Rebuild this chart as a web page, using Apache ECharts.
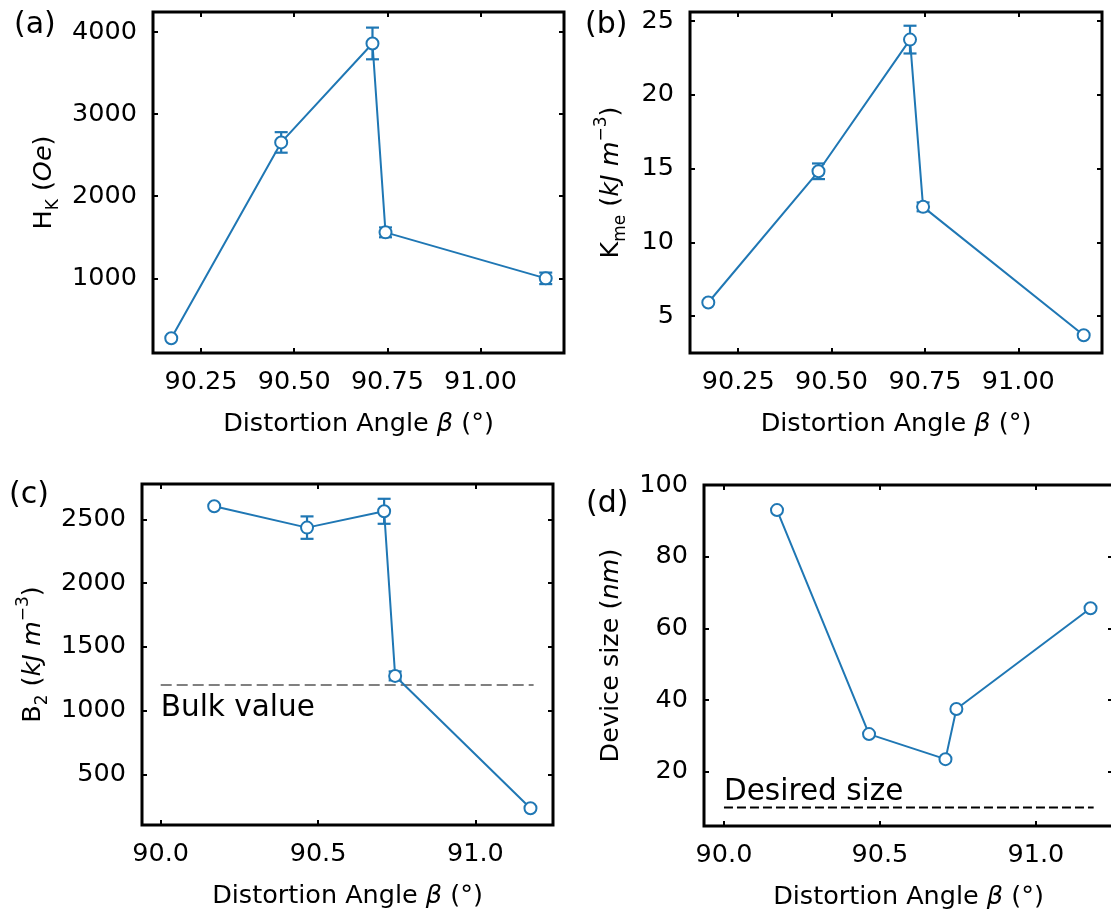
<!DOCTYPE html>
<html>
<head>
<meta charset="utf-8">
<script src="https://cdn.jsdelivr.net/npm/echarts@6/dist/echarts.min.js"></script>
<style>
  html, body { margin: 0; padding: 0; background: #ffffff; }
  #chart { width: 1111px; height: 912px; }
</style>
</head>
<body>
<div id="chart"></div>
<script>
// Distortion angle beta (degrees) of the five samples
const angle = [90.17, 90.465, 90.71, 90.745, 91.175];

// (a) anisotropy field H_K (Oe) with error
const hk = [270, 2655, 3860, 1560, 1000];
const hkErr = [0, 125, 193, 60, 70];

// (b) magnetoelastic anisotropy K_me (kJ m^-3) with error
const kme = [5.93, 14.82, 23.74, 12.41, 3.71];
const kmeErr = [0, 0.53, 0.94, 0.3, 0];

// (c) magnetoelastic coefficient B_2 (kJ m^-3) with error
const b2 = [2602, 2435, 2563, 1272, 234];
const b2Err = [0, 88, 98, 35, 0];

// (d) device size (nm)
const deviceSize = [93.0, 30.5, 23.5, 37.5, 65.6];

// reference lines
const refLineX = [90.0, 91.185];
const bulkB2 = 1200;
const desiredSize = 10;
const bulkLabelAt = [90.0, 1020];
const desiredLabelAt = [90.0, 14.2];

// tick values
const xTicksTop = [90.25, 90.5, 90.75, 91.0];
const xTicksBottom = [90.0, 90.5, 91.0];
const yTicksA = [1000, 2000, 3000, 4000];
const yTicksB = [5, 10, 15, 20, 25];
const yTicksC = [500, 1000, 1500, 2000, 2500];
const yTicksD = [20, 40, 60, 80, 100];

const FONT = 'DejaVu Sans';
const BLUE = '#1f77b4';
const TICK_SIZE = 25.5;

function rich(size) {
  const lh = 36;
  return {
    n: { fontFamily: FONT, fontSize: size, lineHeight: lh, color: '#000' },
    i: { fontFamily: FONT, fontSize: size, lineHeight: lh, fontStyle: 'italic', color: '#000' },
    sub: { fontFamily: FONT, fontSize: 17, lineHeight: lh, verticalAlign: 'bottom', color: '#000' },
    sup: { fontFamily: FONT, fontSize: 17, lineHeight: lh, verticalAlign: 'top', color: '#000' }
  };
}

const xTitle = '{n|Distortion Angle }{i|β}{n| (°)}';

function tickStyle(values) {
  return { show: true, inside: true, length: 5, customValues: values, lineStyle: { color: '#000', width: 2 } };
}

function xAxes(grid, range, ticks, digits) {
  return [
    {
      type: 'value', gridIndex: grid, position: 'bottom', min: range[0], max: range[1],
      axisLine: { show: false }, splitLine: { show: false },
      axisTick: tickStyle(ticks),
      axisLabel: { show: true, customValues: ticks, formatter: v => v.toFixed(digits), margin: 16,
                   fontFamily: FONT, fontSize: TICK_SIZE, color: '#000' },
      name: xTitle, nameLocation: 'middle', nameGap: 53,
      nameTextStyle: { fontFamily: FONT, fontSize: 25, color: '#000', rich: rich(25.5) }
    },
    {
      type: 'value', gridIndex: grid, position: 'top', min: range[0], max: range[1],
      axisLine: { show: false }, splitLine: { show: false },
      axisTick: tickStyle(ticks),
      axisLabel: { show: false, customValues: ticks }
    }
  ];
}

function yAxes(grid, range, ticks, title, gap) {
  return [
    {
      type: 'value', gridIndex: grid, position: 'left', min: range[0], max: range[1],
      axisLine: { show: false }, splitLine: { show: false },
      axisTick: tickStyle(ticks),
      axisLabel: { show: true, customValues: ticks, formatter: v => String(v), margin: 16,
                   fontFamily: FONT, fontSize: TICK_SIZE, color: '#000' },
      name: title, nameLocation: 'middle', nameRotate: 90, nameGap: gap,
      nameTextStyle: { fontFamily: FONT, fontSize: 25, color: '#000', rich: rich(25.5) }
    },
    {
      type: 'value', gridIndex: grid, position: 'right', min: range[0], max: range[1],
      axisLine: { show: false }, splitLine: { show: false },
      axisTick: tickStyle(ticks),
      axisLabel: { show: false, customValues: ticks }
    }
  ];
}

function pairs(xs, ys) {
  return xs.map((x, i) => [x, ys[i]]);
}

function errorData(xs, ys, es) {
  return xs.map((x, i) => [x, ys[i] - es[i], ys[i] + es[i], es[i]]).filter(d => d[3] > 0);
}

function lineSeries(axisIdx, data) {
  return {
    type: 'line', xAxisIndex: axisIdx, yAxisIndex: axisIdx, data: data, z: 3,
    symbol: 'emptyCircle', symbolSize: 12, showAllSymbol: true,
    lineStyle: { color: BLUE, width: 2 },
    itemStyle: { color: BLUE, borderColor: BLUE, borderWidth: 2.2 },
    silent: true, animation: false
  };
}

function errorSeries(axisIdx, data) {
  return {
    type: 'custom', xAxisIndex: axisIdx, yAxisIndex: axisIdx, data: data, z: 2,
    encode: { x: 0, y: [1, 2] }, silent: true, animation: false,
    renderItem: function (params, api) {
      const x = api.value(0);
      const lo = api.coord([x, api.value(1)]);
      const hi = api.coord([x, api.value(2)]);
      const hw = 6.5;
      const st = { stroke: BLUE, lineWidth: 2.2 };
      return {
        type: 'group',
        children: [
          { type: 'line', shape: { x1: lo[0], y1: lo[1], x2: hi[0], y2: hi[1] }, style: st },
          { type: 'line', shape: { x1: lo[0] - hw, y1: lo[1], x2: lo[0] + hw, y2: lo[1] }, style: st },
          { type: 'line', shape: { x1: hi[0] - hw, y1: hi[1], x2: hi[0] + hw, y2: hi[1] }, style: st }
        ]
      };
    }
  };
}

function refLine(axisIdx, yVal, color, dash) {
  return {
    type: 'line', xAxisIndex: axisIdx, yAxisIndex: axisIdx, z: 1,
    data: [[refLineX[0], yVal], [refLineX[1], yVal]],
    symbol: 'none', silent: true, animation: false,
    lineStyle: { color: color, width: 2, type: dash }
  };
}

function textMark(axisIdx, at, text) {
  return {
    type: 'scatter', xAxisIndex: axisIdx, yAxisIndex: axisIdx, z: 4,
    data: [at], symbolSize: 0, silent: true, animation: false,
    itemStyle: { color: '#000', opacity: 1 },
    label: { show: true, position: 'right', distance: 0, formatter: text, opacity: 1,
             fontFamily: FONT, fontSize: 29.5, color: '#000' }
  };
}

const gridFrame = { show: true, borderColor: '#000', borderWidth: 3, backgroundColor: 'transparent', outerBoundsMode: 'none', containLabel: false };

const grids = [
  Object.assign({ left: 153, top: 12, width: 411, height: 341 }, gridFrame),
  Object.assign({ left: 690, top: 12, width: 412, height: 341 }, gridFrame),
  Object.assign({ left: 142, top: 484, width: 411, height: 341 }, gridFrame),
  Object.assign({ left: 704, top: 485, width: 409, height: 341 }, gridFrame)
];

const rangeXTop = [90.121, 91.224];
const rangeXC = [89.9406, 91.2466];
const rangeXD = [89.936, 91.247];

const xAxis = [].concat(
  xAxes(0, rangeXTop, xTicksTop, 2),
  xAxes(1, rangeXTop, xTicksTop, 2),
  xAxes(2, rangeXC, xTicksBottom, 1),
  xAxes(3, rangeXD, xTicksBottom, 1)
);

const yAxis = [].concat(
  yAxes(0, [91, 4243], yTicksA, '{n|H}{sub|K}{n| (}{i|Oe}{n|)}', 91),
  yAxes(1, [2.51, 25.61], yTicksB, '{n|K}{sub|me}{n| (}{i|kJ m}{sup|−3}{n|)}', 61),
  yAxes(2, [103, 2777], yTicksC, '{n|B}{sub|2}{n| (}{i|kJ m}{sup|−3}{n|)}', 91),
  yAxes(3, [4.85, 100], yTicksD, '{n|Device size (}{i|nm}{n|)}', 75)
);

// axis index k*2 is the bottom/left axis of panel k
const series = [
  errorSeries(0, errorData(angle, hk, hkErr)),
  lineSeries(0, pairs(angle, hk)),
  errorSeries(2, errorData(angle, kme, kmeErr)),
  lineSeries(2, pairs(angle, kme)),
  refLine(4, bulkB2, '#808080', [11, 5]),
  errorSeries(4, errorData(angle, b2, b2Err)),
  lineSeries(4, pairs(angle, b2)),
  textMark(4, bulkLabelAt, 'Bulk value'),
  refLine(6, desiredSize, '#000000', [9, 4]),
  lineSeries(6, pairs(angle, deviceSize)),
  textMark(6, desiredLabelAt, 'Desired size')
];

function panelLabel(text, left, top) {
  return { type: 'text', left: left, top: top, silent: true,
           style: { text: text, fontFamily: FONT, fontSize: 30, fill: '#000' } };
}

const chart = echarts.init(document.getElementById('chart'), null, { renderer: 'canvas' });
chart.setOption({
  animation: false,
  backgroundColor: '#ffffff',
  grid: grids,
  xAxis: xAxis,
  yAxis: yAxis,
  series: series,
  graphic: [
    panelLabel('(a)', 14, 10),
    panelLabel('(b)', 585, 10),
    panelLabel('(c)', 9, 480),
    panelLabel('(d)', 586, 489)
  ]
});
</script>
</body>
</html>
